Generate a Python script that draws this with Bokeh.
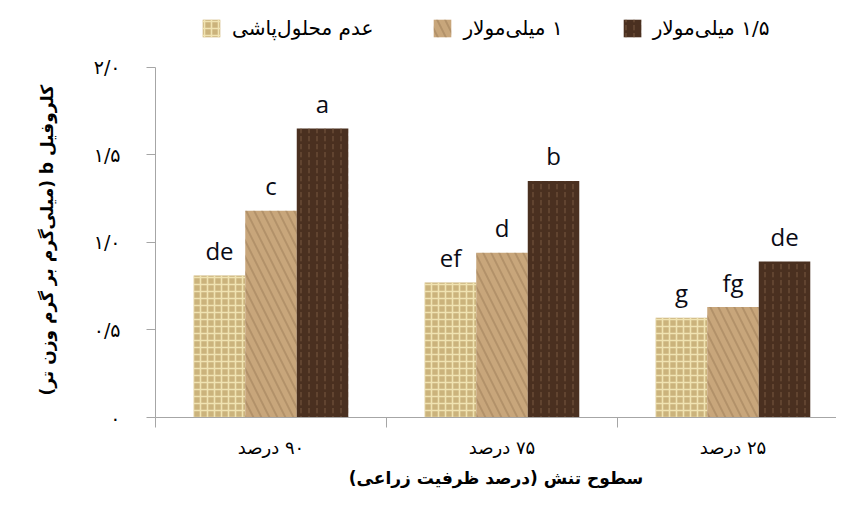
from bokeh.plotting import figure
from bokeh.models import ColumnDataSource, Range1d, FixedTicker, Legend, LegendItem, Title
from bokeh.transform import dodge
from bokeh.core.properties import value
from bokeh.embed import file_html
from bokeh.resources import INLINE

RLE, PDF = "\u202b", "\u202c"


def rtl(s):
    return RLE + s + PDF


# ---------------- data ----------------
categories = ["۹۰ درصد", "۷۵ درصد", "۲۵ درصد"]
series_names = ["عدم محلول‌پاشی", "۱ میلی‌مولار", "۱/۵ میلی‌مولار"]
control = [0.81, 0.77, 0.57]
mm1 = [1.18, 0.94, 0.63]
mm15 = [1.65, 1.35, 0.89]
letters_control = ["de", "ef", "g"]
letters_mm1 = ["c", "d", "fg"]
letters_mm15 = ["a", "b", "de"]
y_ticks = [0, 0.5, 1.0, 1.5, 2.0]
y_tick_labels = ["۰", "۰/۵", "۱/۰", "۱/۵", "۲/۰"]
y_title = "کلروفیل b (میلی‌گرم بر گرم وزن تر)"
x_title = "سطوح تنش (درصد ظرفیت زراعی)"

centers = [i + 0.5 for i in range(len(categories))]
source = ColumnDataSource(dict(
    x=centers,
    control=control, mm1=mm1, mm15=mm15,
    l_control=letters_control, l_mm1=letters_mm1, l_mm15=letters_mm15,
))

PERSIAN = "DejaVu Sans"
AXIS_COLOR = "#a6a6a6"
Y_MAX = 2.0

p = figure(width=836, height=490, output_backend="svg", toolbar_location=None,
           x_range=Range1d(0, 2.948), y_range=Range1d(0, 2.38),
           min_border_left=149, min_border_right=0, min_border_top=0,
           min_border_bottom=70)
p.outline_line_color = None
p.grid.visible = False
p.background_fill_color = "white"

bw = 0.223
styles = [
    dict(fill_color="#cbb37c", hatch_pattern="+", hatch_color="#f4e8b8",
         hatch_scale=7, hatch_weight=1.6, hatch_alpha=0.9),
    dict(fill_color="#c8a67b", hatch_pattern="\\", hatch_color="#8a6a47",
         hatch_scale=16, hatch_weight=2, hatch_alpha=0.35),
    dict(fill_color="#4a3020", hatch_pattern=":", hatch_color="#7d5c42",
         hatch_scale=8, hatch_weight=1.5, hatch_alpha=0.6),
]
fields = ["control", "mm1", "mm15"]
lfields = ["l_control", "l_mm1", "l_mm15"]
offsets = [-bw, 0, bw]

items = []
for f, lf, off, st, name in zip(fields, lfields, offsets, styles, series_names):
    r = p.vbar(x=dodge("x", off, range=p.x_range), top=f, width=bw, bottom=0,
               source=source, line_color=None, **st)
    items.append(LegendItem(label=rtl(name), renderers=[r]))
    p.text(x=dodge("x", off, range=p.x_range), y=f, text=lf, source=source,
           text_align="center", text_baseline="alphabetic", y_offset=-25,
           text_font=value("Open Sans"), text_font_size="24px",
           text_color="#0a0a14")

legend = Legend(items=items, orientation="horizontal", location=(45, 377),
                glyph_width=22, glyph_height=22, label_standoff=10, spacing=58,
                padding=0, margin=0, border_line_color=None,
                background_fill_alpha=0,
                label_text_font=PERSIAN, label_text_font_size="20px",
                label_text_color="#000000")
p.add_layout(legend, "center")

# y axis
ya = p.yaxis[0]
ya.ticker = FixedTicker(ticks=y_ticks)
ya.major_label_overrides = {t: l for t, l in zip(y_ticks, y_tick_labels)}
ya.bounds = (0, Y_MAX)
ya.axis_line_color = AXIS_COLOR
ya.major_tick_line_color = AXIS_COLOR
ya.major_tick_out = 9
ya.major_tick_in = 0
ya.minor_tick_line_color = None
ya.major_label_standoff = 26
ya.major_label_text_font = PERSIAN
ya.major_label_text_font_size = "19px"
ya.major_label_text_color = "#000000"

# x axis
xa = p.xaxis[0]
xa.ticker = FixedTicker(ticks=centers, minor_ticks=[0, 1, 2, 3])
xa.major_label_overrides = {c: rtl(l) for c, l in zip(centers, categories)}
xa.axis_line_color = AXIS_COLOR
xa.major_tick_line_color = None
xa.major_tick_out = 0
xa.major_tick_in = 0
xa.minor_tick_line_color = AXIS_COLOR
xa.minor_tick_out = 10
xa.minor_tick_in = 0
xa.major_label_standoff = 9
xa.major_label_text_font = PERSIAN
xa.major_label_text_font_size = "18px"
xa.major_label_text_color = "#000000"
xa.axis_label = rtl(x_title)
xa.axis_label_text_font = PERSIAN
xa.axis_label_text_font_style = "bold"
xa.axis_label_text_font_size = "17px"
xa.axis_label_text_color = "#000000"
xa.axis_label_standoff = 7

# y title as a side title so it can be placed along the 0-2 span
p.add_layout(Title(text=rtl(y_title), align="left", offset=22, standoff=68,
                   text_font=PERSIAN, text_font_style="bold",
                   text_font_size="17px", text_color="#000000"), "left")

open("out.html", "w").write(file_html(p, INLINE))
